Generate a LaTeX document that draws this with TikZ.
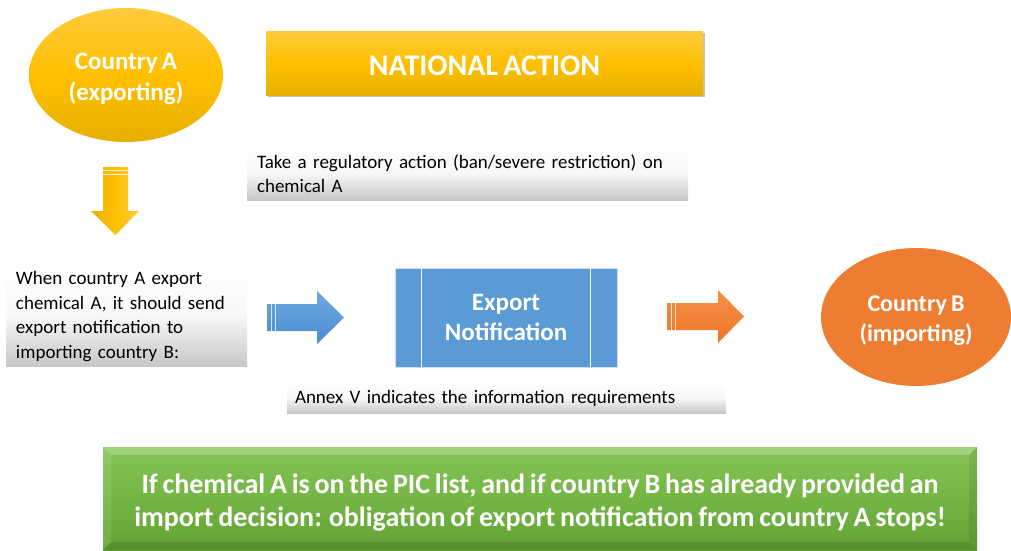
\documentclass[tikz,border=0pt]{standalone}
\usepackage{fontspec}
\setmainfont{Carlito}[WordSpace=0.75]
\usetikzlibrary{shapes.geometric,shadows}

\definecolor{goldtop}{HTML}{FFCB3D}
\definecolor{goldmid}{HTML}{FFC000}
\definecolor{goldbot}{HTML}{E6B000}
\definecolor{expblue}{HTML}{5B9BD5}
\definecolor{arrowblueA}{HTML}{6EA9DF}
\definecolor{arrowblueB}{HTML}{4A8CD2}
\definecolor{arroworA}{HTML}{F3914A}
\definecolor{arroworB}{HTML}{EE7526}
\definecolor{impor}{HTML}{ED7D31}
\definecolor{greentop}{HTML}{86C457}
\definecolor{greenmid}{HTML}{74B544}
\definecolor{greenbot}{HTML}{63A335}

\tikzset{
  goldshade/.style={top color=goldtop, bottom color=goldbot, middle color=goldmid},
  whitebold/.style={text=white, align=center, inner sep=0pt},
  notebox/.style={rectangle, inner sep=0pt, inner xsep=10pt, align=left,
    top color=white, bottom color=black!22, middle color=black!3,
    font=\fontsize{19}{24.5}\selectfont},
  stripe/.style={white!75!#1, line width=0.8pt},
}

\begin{document}
\begin{tikzpicture}[x=1pt,y=-1pt]
\useasboundingbox (0,0) rectangle (1011,550);

% exporting country
\node[ellipse, goldshade, inner sep=0pt, minimum width=194pt, minimum height=134pt] (ctyA) at (126,75) {};
\node[whitebold, font=\bfseries\fontsize{25}{31}\selectfont] (ctyAtext) at ([yshift=-3.5pt]ctyA.center)
  {Country A\\(exporting)};

% heading
\node[rectangle, goldshade, minimum width=437pt, minimum height=64pt,
      drop shadow={shadow xshift=1.5pt, shadow yshift=-2pt, opacity=0.35, fill=black!70}] (national) at (484.5,63) {};
\node[whitebold, font=\bfseries\fontsize{30}{34}\selectfont] (nattext) at ([yshift=-3pt]national.center) {NATIONAL ACTION};

% regulatory action note
\node[notebox, text width=421pt, minimum height=53pt] (regnote) at (467.5,173.5)
  {Take a regulatory action (ban/severe restriction) on\\chemical A};

% downward block arrow
\path[left color=goldbot!95!goldmid, right color=goldtop, middle color=goldmid]
  (103,167) -- (128,167) -- (128,211) -- (139,211) -- (115.5,235) -- (91,211) -- (103,211) -- cycle;
\draw[white, line width=0.7pt, opacity=0.8] (103,170.5) -- (128,170.5);
\draw[white, line width=0.7pt, opacity=0.8] (103,174.5) -- (128,174.5);

% export note
\node[notebox, text width=221pt, minimum height=99pt] (whennote) at (126.5,316.5)
  {When country A export\\chemical A, it should send\\export notification to\\importing country B:};

% blue block arrow
\path[top color=arrowblueA, bottom color=arrowblueB]
  (267,304) -- (317,304) -- (317,291) -- (344,317.5) -- (317,344) -- (317,331) -- (267,331) -- cycle;
\draw[stripe=arrowblueA] (271,304) -- (271,331);
\draw[stripe=arrowblueA] (275,304) -- (275,331);

% export notification document
\node[rectangle, fill=expblue, draw=white!70!expblue, line width=0.6pt,
      minimum width=222pt, minimum height=99pt, text=white, align=center,
      font=\bfseries\fontsize{25}{30}\selectfont] (expnot) at (506,317.5) {Export\\Notification};
\draw[white, line width=1.2pt] ([xshift=27pt]expnot.north west) -- ([xshift=27pt]expnot.south west);
\draw[white, line width=1.2pt] ([xshift=-27pt]expnot.north east) -- ([xshift=-27pt]expnot.south east);

% orange block arrow
\path[top color=arroworA, bottom color=arroworB]
  (667,303) -- (718,303) -- (718,290) -- (744,316.5) -- (718,343) -- (718,330) -- (667,330) -- cycle;
\draw[stripe=arroworA] (671,303) -- (671,330);
\draw[stripe=arroworA] (675,303) -- (675,330);

% importing country
\node[ellipse, fill=impor, inner sep=0pt, minimum width=190pt, minimum height=138pt] (ctyB) at (916,317) {};
\node[whitebold, font=\bfseries\fontsize{24}{30}\selectfont] (ctyBtext) at ([yshift=-4pt]ctyB.center)
  {Country B\\(importing)};

% annex note
\node[notebox, inner xsep=8pt, text width=423pt, minimum height=30pt] (annex) at (506.5,398)
  {Annex V indicates the information requirements};

% PIC list conclusion, bevelled green panel
\node[rectangle, top color=greentop, bottom color=greenbot, middle color=greenmid,
      minimum width=874pt, minimum height=103pt] (pic) at (540,498.5) {};
\fill[white, opacity=0.22] (pic.north west) -- (pic.north east) -- ([xshift=-8pt,yshift=-8pt]pic.north east) -- ([xshift=8pt,yshift=-8pt]pic.north west) -- cycle;
\fill[white, opacity=0.10] (pic.north west) -- ([xshift=8pt,yshift=-8pt]pic.north west) -- ([xshift=8pt,yshift=8pt]pic.south west) -- (pic.south west) -- cycle;
\fill[black, opacity=0.08] (pic.north east) -- ([xshift=-8pt,yshift=-8pt]pic.north east) -- ([xshift=-8pt,yshift=8pt]pic.south east) -- (pic.south east) -- cycle;
\fill[black, opacity=0.12] (pic.south west) -- ([xshift=8pt,yshift=8pt]pic.south west) -- ([xshift=-8pt,yshift=8pt]pic.south east) -- (pic.south east) -- cycle;
\node[whitebold, font=\bfseries\fontsize{28}{33}\selectfont] (pictext) at ([yshift=-4pt]pic.center)
  {If chemical A is on the PIC list, and if country B has already provided an\\import decision: obligation of export notification from country A stops!};
\end{tikzpicture}
\end{document}
